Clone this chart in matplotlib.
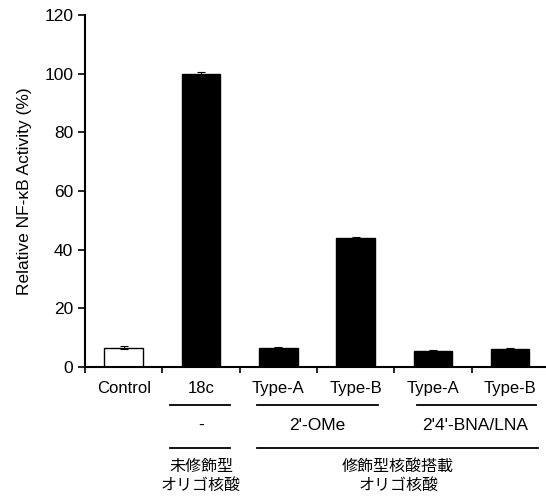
import matplotlib.pyplot as plt
from matplotlib.lines import Line2D
import matplotlib.transforms as mtransforms

plt.rcParams['font.family'] = ['Liberation Sans', 'Noto Sans CJK JP', 'DejaVu Sans']

samples = ["Control", "18c", "Type-A", "Type-B", "Type-A", "Type-B"]
activity = [6.5, 100.0, 6.6, 43.8, 5.6, 6.0]
errors = [0.5, 0.7, 0.2, 0.4, 0.2, 0.4]
face_colors = ["white", "black", "black", "black", "black", "black"]

modification = ["-", "2'-OMe", "2'4'-BNA/LNA"]
oligo_type = ["未修飾型\nオリゴ核酸", "修飾型核酸搭載\nオリゴ核酸"]

fig = plt.figure(figsize=(5.46, 4.97), dpi=100)
ax = fig.add_axes([0.156, 0.2616, 0.842, 0.7084])

x = list(range(len(samples)))
ax.bar(x, activity, width=0.5, color=face_colors, edgecolor="black", linewidth=1.0,
       yerr=errors, capsize=3, error_kw=dict(elinewidth=0.8, capthick=0.8), zorder=2)

ax.set_xlim(-0.5, 5.45)
ax.set_ylim(0, 120)
ax.set_yticks([0, 20, 40, 60, 80, 100, 120])
ax.set_xticks([i - 0.5 for i in range(6)])
ax.set_xticklabels([])
ax.tick_params(axis="y", direction="out", length=5, width=1.2, labelsize=12.5)
ax.tick_params(axis="x", direction="out", length=4, width=1.2)
for side in ["top", "right"]:
    ax.spines[side].set_visible(False)
for side in ["left", "bottom"]:
    ax.spines[side].set_linewidth(1.5)

ax.set_ylabel("Relative NF-κB Activity (%)", fontsize=12.5, labelpad=9)

trans = mtransforms.blended_transform_factory(ax.transData, ax.transAxes)

for i, name in enumerate(samples):
    ax.text(i, -0.06, name, transform=trans, ha="center", va="center", fontsize=12)

def underline(x0, x1, y):
    ax.add_line(Line2D([x0, x1], [y, y], transform=trans, color="black",
                       linewidth=1.3, clip_on=False))

# sample groups
underline(0.6, 1.37, -0.108)
underline(1.73, 3.29, -0.108)
underline(3.79, 5.34, -0.108)
ax.text(1, -0.165, modification[0], transform=trans, ha="center", va="center", fontsize=12.5)
ax.text(2.5, -0.165, modification[1], transform=trans, ha="center", va="center", fontsize=12.5)
ax.text(4.55, -0.165, modification[2], transform=trans, ha="center", va="center", fontsize=12.5)

underline(0.6, 1.37, -0.23)
underline(1.73, 5.36, -0.23)
ax.text(1, -0.31, oligo_type[0], transform=trans, ha="center", va="center",
        fontsize=11.5, linespacing=1.3)
ax.text(3.55, -0.31, oligo_type[1], transform=trans, ha="center", va="center",
        fontsize=11.5, linespacing=1.3)

fig.savefig("out.png", dpi=100)
